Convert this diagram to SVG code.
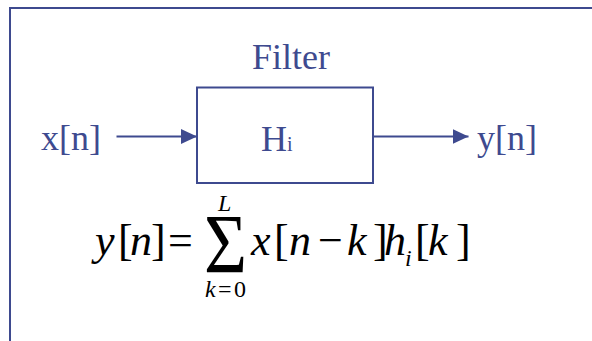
<svg xmlns="http://www.w3.org/2000/svg" width="592" height="341" viewBox="0 0 592 341">
<defs>
<style>
.lbl{font-family:"Liberation Serif",Tinos,"Times New Roman",Times,"DejaVu Serif",serif;fill:#3E4A8F;font-size:36px}
.ln{stroke:#3E4A8F;stroke-width:2;fill:none}
.m{font-family:"Liberation Serif",Tinos,"Times New Roman",Times,"DejaVu Serif",serif;fill:#000;font-size:44px}
.it{font-style:italic}
.sm{font-size:24px}
.sig{font-size:84px}
</style>
<marker id="ah" markerWidth="16" markerHeight="15" refX="16" refY="7.5" orient="auto" markerUnits="userSpaceOnUse">
<path d="M0,0 L16,7.5 L0,15 Z" fill="#3E4A8F"/>
</marker>
</defs>
<rect width="592" height="341" fill="#fff"/>
<rect x="10" y="8" width="600" height="400" class="ln"/>
<g id="filter-title"><text x="252" y="69" class="lbl">Filter</text></g>
<g id="input"><text x="41" y="150" class="lbl">x[n]</text></g>
<g id="filter">
<rect x="197" y="87.5" width="176" height="95.5" class="ln"/>
<text x="261" y="151" class="lbl">H<tspan style="font-size:20px">i</tspan></text>
</g>
<g id="output"><text x="477" y="150" class="lbl">y[n]</text></g>
<g id="connectors">
<line x1="116.5" y1="136.5" x2="197" y2="136.5" class="ln" marker-end="url(#ah)"/>
<line x1="373" y1="136.5" x2="468.5" y2="136.5" class="ln" marker-end="url(#ah)"/>
</g>
<g id="formula">
<text class="m it" x="95" y="255">y</text>
<text class="m" x="118" y="255">[</text>
<text class="m it" x="130" y="255">n</text>
<text class="m" x="151" y="255">]</text>
<text class="m" x="168" y="255">=</text>
<text class="m sig" transform="translate(204,273) scale(0.88,1)">Σ</text>
<text class="m it" x="251" y="255">x</text>
<text class="m" x="274" y="255">[</text>
<text class="m it" x="289" y="255">n</text>
<text class="m" x="318" y="255">−</text>
<text class="m it" x="347" y="255">k</text>
<text class="m" x="373" y="255">]</text>
<text class="m it" x="384" y="255">h</text>
<text class="m it sm" x="405" y="266">i</text>
<text class="m" x="415" y="255">[</text>
<text class="m it" x="428" y="255">k</text>
<text class="m" x="456" y="255">]</text>
<text class="m it sm" x="218" y="211">L</text>
<text class="m it sm" x="205" y="297">k</text>
<text class="m sm" x="218" y="297">=</text>
<text class="m sm" x="234" y="297">0</text>
</g>
</svg>
